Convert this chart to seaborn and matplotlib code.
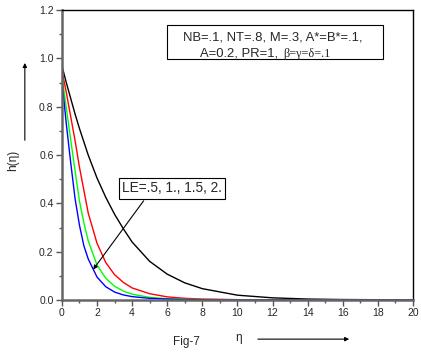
import matplotlib
matplotlib.use("Agg")
import matplotlib.pyplot as plt
import seaborn as sns
import pandas as pd
import numpy as np

# valores
eta = [0, 0.25, 0.5, 0.75, 1, 1.25, 1.5, 2, 2.5, 3, 3.5, 4, 5, 6, 7, 8, 10, 12, 14, 16, 20]
h_le05 = [0.97, 0.90, 0.835, 0.77, 0.71, 0.655, 0.60, 0.505, 0.425, 0.355, 0.295, 0.24, 0.16, 0.107, 0.071,
          0.047, 0.02, 0.009, 0.004, 0.002, 0.0005]
h_le10 = [0.95, 0.86, 0.76, 0.66, 0.55, 0.455, 0.36, 0.235, 0.155, 0.105, 0.073, 0.05, 0.026, 0.013, 0.007,
          0.004, 0.0015, 0.0005, 0.0, 0.0, 0.0]
h_le15 = [0.93, 0.795, 0.665, 0.535, 0.41, 0.32, 0.245, 0.145, 0.09, 0.057, 0.037, 0.024, 0.011, 0.005, 0.003,
          0.002, 0.0005, 0.0, 0.0, 0.0, 0.0]
h_le20 = [0.91, 0.73, 0.57, 0.42, 0.31, 0.225, 0.17, 0.095, 0.055, 0.033, 0.021, 0.014, 0.007, 0.004, 0.002,
          0.001, 0.0, 0.0, 0.0, 0.0, 0.0]

series = {"LE=.5": h_le05, "LE=1.": h_le10, "LE=1.5": h_le15, "LE=2.": h_le20}
colors = ["black", "red", "#00ff00", "blue"]

rows = []
for name, vals in series.items():
    for x, y in zip(eta, vals):
        rows.append({"eta": x, "h": y, "LE": name})
df = pd.DataFrame(rows)

sns.set_style("ticks")
plt.rcParams['font.family'] = ['Liberation Sans', 'DejaVu Sans']

fig = plt.figure(figsize=(4.21, 3.54), dpi=100)
ax = fig.add_axes([0.147, 0.1525, 0.834, 0.819])

sns.lineplot(data=df, x="eta", y="h", hue="LE", palette=colors, linewidth=1.0,
             legend=False, ax=ax, estimator=None, sort=False)

ax.set_xlim(0, 20)
ax.set_ylim(0, 1.2)
ax.set_xticks(np.arange(0, 21, 2))
ax.set_xticks(np.arange(0, 21, 1), minor=True)
ax.set_yticks(np.arange(0, 1.21, 0.2))
ax.set_yticks(np.arange(0, 1.21, 0.1), minor=True)
ax.set_xticklabels([str(int(v)) for v in np.arange(0, 21, 2)])
ax.set_yticklabels([f"{v:.1f}" for v in np.arange(0, 1.21, 0.2)])
ax.tick_params(axis="both", which="major", length=4, width=1, labelsize=7.5, direction="out", color="#555555", pad=2)
ax.tick_params(axis="both", which="minor", length=2.5, width=1, direction="out", color="#555555")
ax.set_xlabel("")
ax.set_ylabel("")

for side in ["left", "bottom"]:
    ax.spines[side].set_linewidth(1.8)
    ax.spines[side].set_color("#666666")
for side in ["top", "right"]:
    ax.spines[side].set_visible(True)
    ax.spines[side].set_linewidth(1.0)
    ax.spines[side].set_color("black")

# caja de parametros
fig.text(0.435, 0.895, "NB=.1, NT=.8, M=.3, A*=B*=.1,", fontsize=9.4, va="center")
fig.text(0.475, 0.848, "A=0.2, PR=1, ", fontsize=9.4, va="center")
fig.text(0.672, 0.848, "β=γ=δ=.1", fontsize=8.8, va="center", family=['Liberation Serif', 'DejaVu Serif'])
box = matplotlib.patches.Rectangle((0.397, 0.832), 0.512, 0.098, transform=fig.transFigure,
                                   fill=False, edgecolor="black", linewidth=0.8)
fig.add_artist(box)

# etiqueta LE con flecha
ax.text(3.42, 0.463, "LE=.5, 1., 1.5, 2.", fontsize=9.8, va="center", ha="left",
        bbox=dict(boxstyle="square,pad=0.25", facecolor="white", edgecolor="black", linewidth=0.8))
ax.annotate("", xy=(1.69, 0.117), xytext=(4.75, 0.42),
            arrowprops=dict(arrowstyle="-|>", color="black", lw=0.8, mutation_scale=6))

# etiquetas de ejes con flechas
fig.text(0.03, 0.548, "h(η)", rotation=90, fontsize=8.5, va="center", ha="center")
fig.add_artist(matplotlib.patches.FancyArrowPatch((0.059, 0.596), (0.059, 0.83), transform=fig.transFigure,
               arrowstyle="-|>", mutation_scale=6, color="black", lw=0.8))
fig.text(0.442, 0.034, "Fig-7", fontsize=8.5, ha="center", va="center")
fig.text(0.568, 0.045, "η", fontsize=8.5, ha="center", va="center")
fig.add_artist(matplotlib.patches.FancyArrowPatch((0.606, 0.042), (0.836, 0.042), transform=fig.transFigure,
               arrowstyle="-|>", mutation_scale=6, color="black", lw=0.8))

fig.savefig("out.png", dpi=100)
